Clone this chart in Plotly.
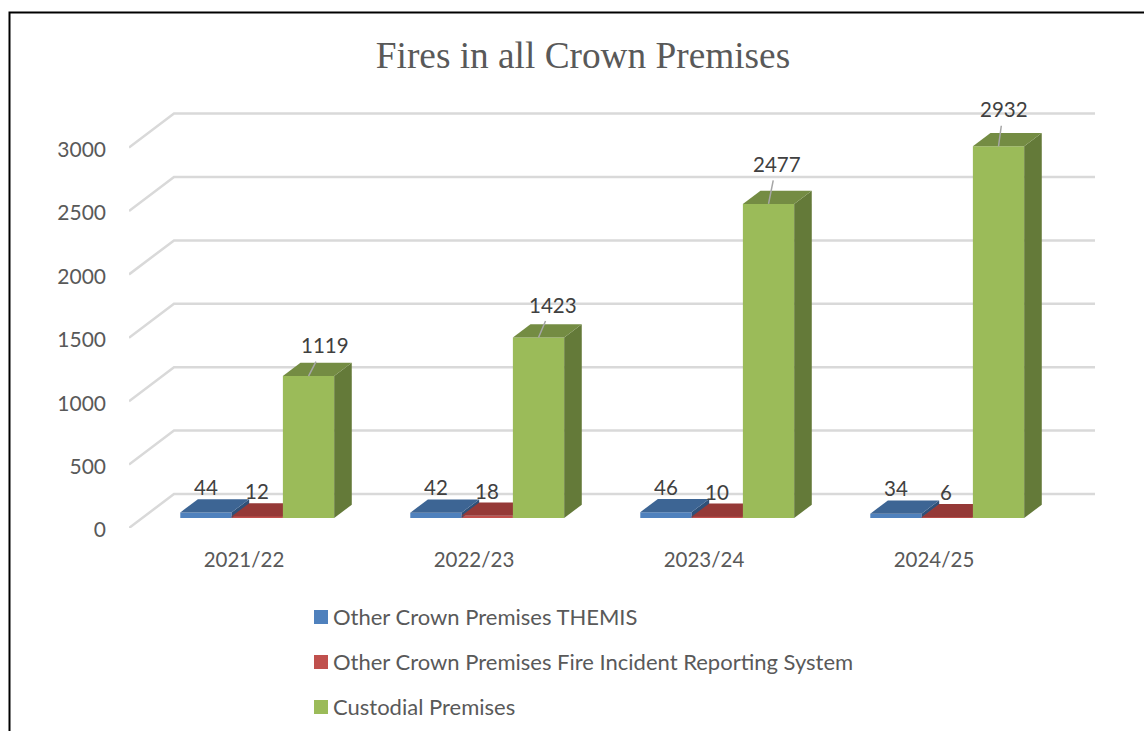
import plotly.graph_objects as go

periods = ["2021/22", "2022/23", "2023/24", "2024/25"]
themis = [44, 42, 46, 34]
fris = [12, 18, 10, 6]
custodial = [1119, 1423, 2477, 2932]
names = ["Other Crown Premises THEMIS",
         "Other Crown Premises Fire Incident Reporting System",
         "Custodial Premises"]
y_ticks = [0, 500, 1000, 1500, 2000, 2500, 3000]

W, H = 1144, 731
L, R, T, B = 129, 1095, 100, 528      # plot area in px
PX_PER_UNIT = 0.1268
PX_PER_CAT = 230.0
DX_PX, DY_PX = 45.0, 34.0             # full floor depth in px
xmin = -0.5
xmax = xmin + (R - L) / PX_PER_CAT
ymax = (B - T) / PX_PER_UNIT
DX = DX_PX / PX_PER_CAT
DY = DY_PX / PX_PER_UNIT
BAR_W = 51.3 / PX_PER_CAT
D0, D1 = 0.294, 0.685                 # bar front/back depth as share of the floor

front = {"THEMIS": "#4F81BD", "FRIS": "#C0504D", "CUST": "#9BBB59"}
top = {"THEMIS": "#3D6594", "FRIS": "#953937", "CUST": "#748C43"}
side = {"THEMIS": "#2F5179", "FRIS": "#7A2E2C", "CUST": "#647A39"}
keys = ["THEMIS", "FRIS", "CUST"]
series = [themis, fris, custodial]
GREY = "#595959"
DARK = "#404040"
FONT = "Lato"


def proj(x, v, d):
    return x + d * DX, v + d * DY


def px(x):
    return (x - L) / (R - L)


def py(y):
    return (B - y) / (B - T)


fig = go.Figure()

# Walls: gridlines on the back wall and their slanted run over the side wall
gx, gy = [], []
for v in y_ticks:
    a = proj(xmin, v, 0)
    b = proj(xmin, v, 1)
    c = (xmax, b[1])
    gx += [a[0], b[0], c[0], None]
    gy += [a[1], b[1], c[1], None]
fig.add_trace(go.Scatter(x=gx, y=gy, mode="lines", line=dict(color="#D9D9D9", width=2.5),
                         hoverinfo="skip", showlegend=False, cliponaxis=False))


def add_series(idx, xa, ya):
    key, vals = keys[idx], series[idx]
    base = D0 * DY
    raw = [i + (idx - 1) * BAR_W for i in range(len(vals))]
    fig.add_trace(go.Bar(x=[proj(c, 0, D0)[0] for c in raw], y=vals, base=base, width=BAR_W, name=names[idx],
                         marker=dict(color=front[key], line=dict(width=0)),
                         xaxis=xa, yaxis=ya, showlegend=False))
    for c, v in zip(raw, vals):
        l, r = c - BAR_W / 2, c + BAR_W / 2
        corners_top = [proj(l, v, D0), proj(r, v, D0), proj(r, v, D1), proj(l, v, D1)]
        corners_side = [proj(r, 0, D0), proj(r, 0, D1), proj(r, v, D1), proj(r, v, D0)]
        for poly, col in ((corners_side, side[key]), (corners_top, top[key])):
            xs = [p[0] for p in poly] + [poly[0][0]]
            ys = [p[1] for p in poly] + [poly[0][1]]
            fig.add_trace(go.Scatter(x=xs, y=ys, mode="lines", fill="toself", fillcolor=col,
                                     line=dict(width=0, color=col), hoverinfo="skip",
                                     showlegend=False, xaxis=xa, yaxis=ya))


add_series(0, "x", "y")
add_series(1, "x", "y")
add_series(2, "x2", "y2")

# Value labels: (x shift, y shift) of each label from the front of its bar's top
label_shift = {
    0: [(0, -25), (0, -26), (0, -25), (0, -26)],
    1: [(0, -25), (0, -25), (0, -25), (-1, -25)],
    2: [(16, -31), (14, -33), (8, -40), (5, -37)],
}
annotations = []
for idx, vals in enumerate(series):
    for i, v in enumerate(vals):
        bx, by = proj(i + (idx - 1) * BAR_W, v, D0)
        sx, sy = label_shift[idx][i]
        if idx == 2:
            annotations.append(dict(x=bx, y=by, xref="x2", yref="y2", text=str(v), showarrow=True,
                                    arrowhead=0, arrowwidth=1.5, arrowcolor="#A6A6A6",
                                    ax=sx, ay=sy, axref="pixel", ayref="pixel", borderpad=4,
                                    font=dict(family=FONT, size=20.5, color=DARK)))
        else:
            annotations.append(dict(x=bx, y=by, xref="x", yref="y", text=str(v), showarrow=False,
                                    xshift=sx, yshift=-sy,
                                    font=dict(family=FONT, size=20.5, color=DARK)))

# Legend
shapes = []
for y_mid, name, key in zip((617, 662, 707), names, keys):
    shapes.append(dict(type="rect", xref="paper", yref="paper", x0=px(314), x1=px(328),
                       y0=py(y_mid - 7), y1=py(y_mid + 7), fillcolor=front[key], line=dict(width=0)))
    annotations.append(dict(xref="paper", yref="paper", x=px(331), y=py(y_mid - 1), text=name, showarrow=False,
                            xanchor="left", yanchor="middle", font=dict(family=FONT, size=22, color=GREY)))

# Page frame
shapes.append(dict(type="path", xref="paper", yref="paper",
                   path=f"M {px(9.5)} {py(731)} L {px(9.5)} {py(12.5)} L {px(1144)} {py(12.5)}",
                   line=dict(color="#000000", width=2)))

fig.update_layout(
    width=W, height=H, autosize=False,
    margin=dict(l=L, r=W - R, t=T, b=H - B, pad=0),
    paper_bgcolor="white", plot_bgcolor="white",
    barmode="overlay", showlegend=False,
    title=dict(text="Fires in all Crown Premises", xref="container", yref="container",
               x=583 / W, y=1 - 55 / H, xanchor="center", yanchor="middle",
               font=dict(family="Liberation Serif", size=37.3, color=GREY)),
    xaxis=dict(range=[xmin, xmax], tickmode="array", tickvals=list(range(len(periods))), ticktext=periods,
               showgrid=False, zeroline=False, showline=False, ticks="", ticklabelstandoff=17,
               tickfont=dict(family=FONT, size=20.5, color=GREY)),
    yaxis=dict(range=[0, ymax], tickmode="array", tickvals=y_ticks, showgrid=False, zeroline=False,
               showline=False, ticks="", ticklabelstandoff=22, ticklabelshift=2,
               tickfont=dict(family=FONT, size=21, color=GREY)),
    xaxis2=dict(range=[xmin, xmax], overlaying="x", visible=False),
    yaxis2=dict(range=[0, ymax], overlaying="y", visible=False),
    annotations=annotations, shapes=shapes,
)

fig.write_html("out.html", config={"displayModeBar": False},
               post_script="document.body.style.margin='0';document.body.style.overflow='hidden';")
